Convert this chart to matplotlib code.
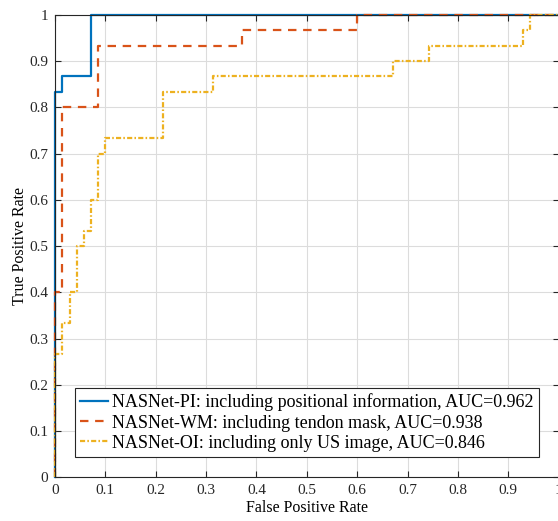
"""ROC curves for the three NASNet variants."""
import matplotlib
matplotlib.use("Agg")
import matplotlib.pyplot as plt
import numpy as np

# ROC step points
fpr_pi = [0, 0, 0.014, 0.014, 0.071, 0.071, 1]
tpr_pi = [0, 0.833, 0.833, 0.867, 0.867, 1, 1]

fpr_wm = [0, 0, 0.014, 0.014, 0.086, 0.086, 0.371, 0.371, 0.600, 0.600, 1]
tpr_wm = [0, 0.400, 0.400, 0.800, 0.800, 0.933, 0.933, 0.967, 0.967, 1, 1]

fpr_oi = [0, 0, 0.014, 0.014, 0.029, 0.029, 0.043, 0.043, 0.057, 0.057,
          0.071, 0.071, 0.086, 0.086, 0.100, 0.100, 0.214, 0.214, 0.314, 0.314,
          0.671, 0.671, 0.743, 0.743, 0.929, 0.929, 0.943, 0.943, 1]
tpr_oi = [0, 0.267, 0.267, 0.333, 0.333, 0.400, 0.400, 0.500, 0.500, 0.533,
          0.533, 0.600, 0.600, 0.700, 0.700, 0.733, 0.733, 0.833, 0.833, 0.867,
          0.867, 0.900, 0.900, 0.933, 0.933, 0.967, 0.967, 1, 1]

labels = [
    "NASNet-PI: including positional information, AUC=0.962",
    "NASNet-WM: including tendon mask, AUC=0.938",
    "NASNet-OI: including only US image, AUC=0.846",
]
colors = ["#0072BD", "#D95319", "#EDB120"]
dashes = [None, (3.8, 3.0), (2.3, 1.0, 0.7, 1.0)]

ticks = np.round(np.arange(0, 1.01, 0.1), 1)
tick_labels = ["0"] + [f"{t:.1f}" for t in ticks[1:-1]] + ["1"]

plt.rcParams["font.family"] = ["Liberation Serif", "DejaVu Serif"]

W, H = 558, 521
fig = plt.figure(figsize=(W / 100, H / 100), dpi=100)
ax = fig.add_axes([55 / W, 1 - 477.3 / H, 503.7 / W, 462.3 / H])

for xs, ys, c, d, lab in zip([fpr_pi, fpr_wm, fpr_oi], [tpr_pi, tpr_wm, tpr_oi],
                             colors, dashes, labels):
    line, = ax.plot(xs, ys, color=c, linewidth=1.6, label=lab, clip_on=False)
    if d is not None:
        line.set_dashes(d)

ax.set_xlim(0, 1)
ax.set_ylim(0, 1)
ax.set_xticks(ticks)
ax.set_xticklabels(tick_labels)
ax.set_yticks(ticks)
ax.set_yticklabels(tick_labels)
ax.tick_params(direction="in", top=True, right=True, labelsize=11,
               length=4, width=0.8, colors="#262626", pad=5)
ax.grid(True, color="#dcdcdc", linewidth=0.8)
ax.set_axisbelow(True)
for s in ax.spines.values():
    s.set_color("#262626")
    s.set_linewidth(0.8)

ax.set_xlabel("False Positive Rate", fontsize=11.5, labelpad=2)
ax.set_ylabel("True Positive Rate", fontsize=11.5)
ax.yaxis.set_label_coords(-27 / 503.7, 0.5)

leg = ax.legend(loc="lower left", bbox_to_anchor=(20 / 503.7, 20.3 / 462.3),
                fontsize=13, frameon=True, fancybox=False, framealpha=1,
                edgecolor="#262626", handlelength=1.55, handletextpad=0.19,
                labelspacing=0.17, borderpad=0.3, borderaxespad=0)
leg.get_frame().set_linewidth(0.8)

fig.savefig("out.png", dpi=100)
